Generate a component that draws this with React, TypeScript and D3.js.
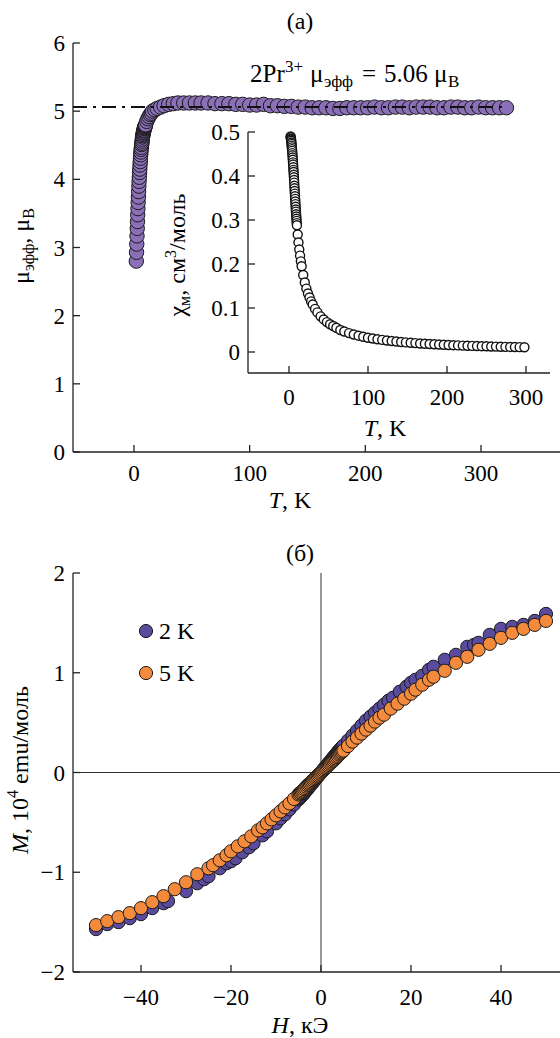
import React from "react";
import * as d3 from "d3";

// ---- Panel (a): effective moment vs T ----
const muT = [2.0, 2.2, 2.4, 2.6, 2.8, 3.0, 3.2, 3.4, 3.6, 3.8, 4.0, 4.2, 4.4, 4.6, 4.8, 5.0, 5.2, 5.4, 5.6, 5.8, 6.0, 6.2, 6.4, 6.6, 6.8, 7.0, 7.2, 7.4, 7.6, 7.8, 8.0, 8.2, 8.4, 8.6, 8.8, 9.0, 9.2, 9.4, 9.6, 9.8, 10.0, 11, 12, 13, 14, 15, 16, 18, 20, 23, 26, 30, 34, 38, 43, 48, 53, 58, 64, 70, 76, 82, 88, 94, 100, 106, 112, 118, 124, 130, 136, 142, 148, 154, 160, 166, 172, 178, 184, 190, 196, 202, 208, 214, 220, 226, 232, 238, 244, 250, 256, 262, 268, 274, 280, 286, 292, 298, 304, 310, 316, 322];
const muEff = [2.80, 2.93, 3.05, 3.17, 3.28, 3.38, 3.48, 3.57, 3.66, 3.74, 3.82, 3.90, 3.97, 4.03, 4.10, 4.15, 4.21, 4.26, 4.31, 4.36, 4.40, 4.44, 4.47, 4.51, 4.53, 4.56, 4.59, 4.62, 4.64, 4.66, 4.68, 4.69, 4.71, 4.72, 4.74, 4.75, 4.76, 4.77, 4.78, 4.79, 4.80, 4.85, 4.89, 4.92, 4.95, 4.97, 5.00, 5.02, 5.04, 5.06, 5.08, 5.10, 5.11, 5.12, 5.12, 5.12, 5.12, 5.12, 5.12, 5.11, 5.11, 5.11, 5.10, 5.10, 5.09, 5.09, 5.10, 5.08, 5.08, 5.07, 5.07, 5.06, 5.06, 5.05, 5.05, 5.05, 5.04, 5.04, 5.05, 5.05, 5.05, 5.05, 5.06, 5.05, 5.05, 5.06, 5.06, 5.05, 5.06, 5.06, 5.06, 5.05, 5.05, 5.06, 5.06, 5.05, 5.05, 5.06, 5.05, 5.05, 5.05, 5.05];
const muRef = 5.06;
const muYTicks = [0, 1, 2, 3, 4, 5, 6];
const muXTicks = [0, 100, 200, 300];

// ---- Inset: chi vs T ----
const chiT = [2.0, 2.2, 2.4, 2.6, 2.8, 3.0, 3.2, 3.4, 3.6, 3.8, 4.0, 4.2, 4.4, 4.6, 4.8, 5.0, 5.2, 5.4, 5.6, 5.8, 6.0, 6.2, 6.4, 6.6, 6.8, 7.0, 7.2, 7.4, 7.6, 7.8, 8.0, 8.2, 8.4, 8.6, 8.8, 9.0, 9.2, 9.4, 9.6, 9.8, 10.0, 11, 12, 13, 14, 15, 16, 18, 20, 22, 24, 26, 28, 30, 33, 36, 40, 44, 48, 52, 56, 60, 65, 70, 76, 82, 88, 94, 100, 106, 112, 118, 124, 130, 136, 142, 148, 154, 160, 166, 172, 178, 184, 190, 196, 202, 208, 214, 220, 226, 232, 238, 244, 250, 256, 262, 268, 274, 280, 286, 292, 298];
const chiM = [0.490, 0.488, 0.485, 0.483, 0.480, 0.476, 0.473, 0.469, 0.465, 0.461, 0.457, 0.452, 0.447, 0.442, 0.437, 0.431, 0.426, 0.420, 0.414, 0.409, 0.403, 0.397, 0.391, 0.385, 0.378, 0.372, 0.366, 0.360, 0.354, 0.348, 0.342, 0.336, 0.330, 0.324, 0.319, 0.313, 0.308, 0.303, 0.298, 0.293, 0.288, 0.267, 0.249, 0.233, 0.219, 0.206, 0.195, 0.175, 0.158, 0.144, 0.133, 0.124, 0.115, 0.108, 0.098, 0.090, 0.081, 0.074, 0.068, 0.063, 0.059, 0.055, 0.050, 0.0467, 0.043, 0.0398, 0.0371, 0.0347, 0.0325, 0.0306, 0.0290, 0.0275, 0.0261, 0.0249, 0.0238, 0.0228, 0.0218, 0.0210, 0.0202, 0.0194, 0.0187, 0.0181, 0.0175, 0.0169, 0.0164, 0.0159, 0.0155, 0.0150, 0.0146, 0.0142, 0.0139, 0.0135, 0.0132, 0.0129, 0.0126, 0.0123, 0.0120, 0.0117, 0.0115, 0.0112, 0.0110, 0.0108];
const chiYTicks = [0, 0.1, 0.2, 0.3, 0.4, 0.5];
const chiXTicks = [0, 100, 200, 300];

// ---- Panel (б): M vs H ----
const H2 = [-50, -47.5, -45, -42.5, -40, -37.5, -35, -34, -30, -27.5, -26, -25, -22.5, -21, -20, -19, -17.5, -16, -15, -13, -12, -10, -9, -8, -7, -6,
  -5, -4.75, -4.5, -4.25, -4, -3.75, -3.5, -3.25, -3, -2.75, -2.5, -2.25, -2, -1.75, -1.5, -1.25, -1, -0.75, -0.5, -0.25, 0,
  0.25, 0.5, 0.75, 1, 1.25, 1.5, 1.75, 2, 2.25, 2.5, 2.75, 3, 3.25, 3.5, 3.75, 4, 4.25, 4.5, 4.75, 5,
  6, 7, 8, 9, 10, 11, 12, 13, 14, 15, 16, 17.5, 19, 20, 21, 22.5, 24, 25, 27.5, 30, 32.5, 34, 35, 37.5, 40, 42.5, 45, 47.5, 50];
const M2 = [-1.57, -1.52, -1.50, -1.46, -1.42, -1.36, -1.31, -1.29, -1.19, -1.11, -1.07, -1.04, -0.96, -0.91, -0.89, -0.86, -0.80, -0.75, -0.71, -0.63, -0.59, -0.51, -0.46, -0.42, -0.37, -0.32,
  -0.270, -0.257, -0.245, -0.232, -0.220, -0.206, -0.193, -0.179, -0.165, -0.151, -0.138, -0.124, -0.110, -0.096, -0.083, -0.069, -0.055, -0.041, -0.028, -0.014, 0,
  0.014, 0.028, 0.041, 0.055, 0.069, 0.083, 0.096, 0.110, 0.124, 0.138, 0.151, 0.165, 0.179, 0.193, 0.206, 0.220, 0.232, 0.245, 0.257, 0.270,
  0.32, 0.37, 0.42, 0.47, 0.52, 0.56, 0.60, 0.64, 0.68, 0.72, 0.75, 0.81, 0.86, 0.90, 0.93, 0.97, 1.03, 1.06, 1.13, 1.18, 1.26, 1.28, 1.30, 1.38, 1.44, 1.46, 1.48, 1.52, 1.59];
const H5 = [-50, -47.5, -45, -42.5, -40, -37.5, -35, -32.5, -30, -27.5, -25, -24, -22.5, -21, -20, -18.5, -17, -15.5, -14, -13, -12, -11, -10, -9, -8, -7, -6,
  -5, -4.75, -4.5, -4.25, -4, -3.75, -3.5, -3.25, -3, -2.75, -2.5, -2.25, -2, -1.75, -1.5, -1.25, -1, -0.75, -0.5, -0.25, 0,
  0.25, 0.5, 0.75, 1, 1.25, 1.5, 1.75, 2, 2.25, 2.5, 2.75, 3, 3.25, 3.5, 3.75, 4, 4.25, 4.5, 4.75, 5,
  6, 7, 8, 9, 10, 11, 12, 13, 14, 15.5, 17, 18.5, 20, 21, 22.5, 24, 25, 27.5, 30, 32.5, 35, 37.5, 40, 42.5, 45, 47.5, 50];
const M5 = [-1.53, -1.49, -1.45, -1.41, -1.36, -1.30, -1.24, -1.17, -1.10, -1.02, -0.96, -0.93, -0.88, -0.83, -0.79, -0.74, -0.69, -0.64, -0.58, -0.55, -0.51, -0.47, -0.43, -0.39, -0.35, -0.31, -0.265,
  -0.220, -0.209, -0.200, -0.190, -0.180, -0.167, -0.155, -0.142, -0.130, -0.120, -0.110, -0.099, -0.088, -0.077, -0.066, -0.055, -0.044, -0.033, -0.022, -0.011, 0,
  0.011, 0.022, 0.033, 0.044, 0.055, 0.066, 0.077, 0.088, 0.099, 0.110, 0.120, 0.130, 0.142, 0.155, 0.167, 0.180, 0.190, 0.200, 0.209, 0.220,
  0.265, 0.31, 0.35, 0.39, 0.43, 0.47, 0.51, 0.55, 0.58, 0.64, 0.69, 0.74, 0.79, 0.83, 0.88, 0.93, 0.96, 1.02, 1.10, 1.16, 1.23, 1.29, 1.35, 1.40, 1.44, 1.48, 1.52];
const mYTicks = [-2, -1, 0, 1, 2];
const mXTicks = [-40, -20, 0, 20, 40];
const legendLabels = ["2 K", "5 K"];

const FONT = "'Liberation Serif', 'Times New Roman', serif";
const PURPLE_A = "#8b70b8";
const PURPLE_B = "#5b4b9f";
const ORANGE = "#f38a3c";

const fmt = (v: number) => (v < 0 ? "\u2212" + String(-v) : String(v));

export default function App() {
  // Panel (a)
  const xA = d3.scaleLinear().domain([0, 300]).range([134, 481]);
  const yA = d3.scaleLinear().domain([0, 6]).range([452, 43]);
  // Inset
  const xI = d3.scaleLinear().domain([0, 300]).range([289, 526]);
  const yI = d3.scaleLinear().domain([0, 0.5]).range([352, 132]);
  // Panel (б)
  const xB = d3.scaleLinear().domain([0, 40]).range([321, 501]);
  const yB = d3.scaleLinear().domain([-2, 2]).range([972, 573]);

  const axisColor = "#222";
  const tick = 7;
  const fs = 23;
  const fsT = 24;

  const axLeftA = 73;
  const axLeftI = 248;
  const axBottomI = 373;
  const axLeftB = 73;

  return (
    <svg
      width={560}
      height={1038}
      style={{ position: "absolute", left: 0, top: 0, background: "#fff" }}
      fontFamily={FONT}
    >
      <rect x={0} y={0} width={560} height={1038} fill="#fff" />

      {/* ===== Panel (a) ===== */}
      <text x={300} y={29} fontSize={fsT} textAnchor="middle">(a)</text>
      <line x1={axLeftA} x2={axLeftA} y1={yA(6)} y2={yA(0)} stroke={axisColor} strokeWidth={1.3} />
      <line x1={axLeftA} x2={560} y1={yA(0)} y2={yA(0)} stroke={axisColor} strokeWidth={1.3} />
      {muYTicks.map((t) => (
        <g key={"ya" + t}>
          <line x1={axLeftA} x2={axLeftA + tick} y1={yA(t)} y2={yA(t)} stroke={axisColor} strokeWidth={1.3} />
          <text x={axLeftA - 8} y={yA(t) + 8} fontSize={fs} textAnchor="end">{fmt(t)}</text>
        </g>
      ))}
      {muXTicks.map((t) => (
        <g key={"xa" + t}>
          <line x1={xA(t)} x2={xA(t)} y1={yA(0)} y2={yA(0) - tick} stroke={axisColor} strokeWidth={1.3} />
          <text x={xA(t)} y={yA(0) + 29} fontSize={fs} textAnchor="middle">{fmt(t)}</text>
        </g>
      ))}
      <text x={290} y={508} fontSize={fsT} textAnchor="middle">
        <tspan fontStyle="italic">T</tspan>, K
      </text>
      <text transform={`translate(29, 246) rotate(-90)`} fontSize={fsT} textAnchor="middle">
        μ<tspan fontSize={16} dy={5}>эфф</tspan><tspan dy={-5}>, μ</tspan><tspan fontSize={16} dy={5}>B</tspan>
      </text>
      <text y={82} fontSize={25}>
        <tspan x={250}>2Pr</tspan>
        <tspan x={285} fontSize={17} dy={-10}>3+</tspan>
        <tspan x={310} dy={10}>μ</tspan>
        <tspan x={324} fontSize={17} dy={5}>эфф</tspan>
        <tspan x={362} dy={-5}>=</tspan>
        <tspan x={384}>5.06</tspan>
        <tspan x={434}>μ</tspan>
        <tspan x={448} fontSize={17} dy={5}>B</tspan>
      </text>
      {muT.map((t, i) => (
        <circle key={"mu" + i} cx={xA(t)} cy={yA(muEff[i])} r={7.2} fill={PURPLE_A} stroke="#1a1a1a" strokeWidth={1} />
      ))}
      <line
        x1={axLeftA}
        x2={xA(muT[muT.length - 1])}
        y1={yA(muRef)}
        y2={yA(muRef)}
        stroke="#111"
        strokeWidth={2}
        strokeDasharray="14 6 3 6"
      />

      {/* ===== Inset ===== */}
      <line x1={axLeftI} x2={axLeftI} y1={yI(0.5)} y2={axBottomI} stroke={axisColor} strokeWidth={1.3} />
      <line x1={axLeftI} x2={550} y1={axBottomI} y2={axBottomI} stroke={axisColor} strokeWidth={1.3} />
      {chiYTicks.map((t) => (
        <g key={"yi" + t}>
          <line x1={axLeftI} x2={axLeftI + tick} y1={yI(t)} y2={yI(t)} stroke={axisColor} strokeWidth={1.3} />
          <text x={axLeftI - 8} y={yI(t) + 8} fontSize={fs} textAnchor="end">{String(t)}</text>
        </g>
      ))}
      {chiXTicks.map((t) => (
        <g key={"xi" + t}>
          <line x1={xI(t)} x2={xI(t)} y1={axBottomI} y2={axBottomI - tick} stroke={axisColor} strokeWidth={1.3} />
          <text x={xI(t)} y={axBottomI + 32} fontSize={fs} textAnchor="middle">{String(t)}</text>
        </g>
      ))}
      <text x={385} y={436} fontSize={fsT} textAnchor="middle">
        <tspan fontStyle="italic">T</tspan>, K
      </text>
      <text transform={`translate(185, 255) rotate(-90)`} fontSize={fsT} textAnchor="middle">
        χ<tspan fontSize={16} dy={5}>м</tspan><tspan dy={-5}>, см</tspan><tspan fontSize={16} dy={-9}>3</tspan><tspan dy={9}>/моль</tspan>
      </text>
      {chiT.map((t, i) => (
        <circle key={"chi" + i} cx={xI(t)} cy={yI(chiM[i])} r={4.5} fill="#fff" stroke="#111" strokeWidth={1.4} />
      ))}

      {/* ===== Panel (б) ===== */}
      <text x={300} y={561} fontSize={fsT} textAnchor="middle">(б)</text>
      <line x1={axLeftB} x2={axLeftB} y1={yB(2)} y2={yB(-2)} stroke={axisColor} strokeWidth={1.3} />
      <line x1={axLeftB} x2={560} y1={yB(-2)} y2={yB(-2)} stroke={axisColor} strokeWidth={1.3} />
      <line x1={xB(0)} x2={xB(0)} y1={yB(2)} y2={yB(-2)} stroke="#333" strokeWidth={1} />
      <line x1={axLeftB} x2={560} y1={yB(0)} y2={yB(0)} stroke="#333" strokeWidth={1} />
      {mYTicks.map((t) => (
        <g key={"yb" + t}>
          <line x1={axLeftB} x2={axLeftB + tick} y1={yB(t)} y2={yB(t)} stroke={axisColor} strokeWidth={1.3} />
          <text x={axLeftB - 8} y={yB(t) + 8} fontSize={fs} textAnchor="end">{fmt(t)}</text>
        </g>
      ))}
      {mXTicks.map((t) => (
        <g key={"xb" + t}>
          <line x1={xB(t)} x2={xB(t)} y1={yB(-2)} y2={yB(-2) - tick} stroke={axisColor} strokeWidth={1.3} />
          <text x={xB(t)} y={yB(-2) + 33} fontSize={fs} textAnchor="middle">{fmt(t)}</text>
        </g>
      ))}
      <text x={300} y={1033} fontSize={fsT} textAnchor="middle">
        <tspan fontStyle="italic">H</tspan>, кЭ
      </text>
      <text transform={`translate(28, 770) rotate(-90)`} fontSize={fsT} textAnchor="middle">
        <tspan fontStyle="italic">M</tspan>, 10<tspan fontSize={16} dy={-10}>4</tspan><tspan dy={10}> emu/моль</tspan>
      </text>
      {H2.map((h, i) => (
        <circle key={"b2" + i} cx={xB(h)} cy={yB(M2[i])} r={6.6} fill={PURPLE_B} stroke="#1a1a1a" strokeWidth={1} />
      ))}
      {H5.map((h, i) => (
        <circle key={"b5" + i} cx={xB(h)} cy={yB(M5[i])} r={6.6} fill={ORANGE} stroke="#1a1a1a" strokeWidth={1} />
      ))}
      {legendLabels.map((lab, i) => (
        <g key={"lg" + i}>
          <circle cx={146} cy={631 + i * 42} r={6.6} fill={i === 0 ? PURPLE_B : ORANGE} stroke="#1a1a1a" strokeWidth={1} />
          <text x={159} y={631 + i * 42 + 8} fontSize={fsT}>{lab}</text>
        </g>
      ))}
    </svg>
  );
}
